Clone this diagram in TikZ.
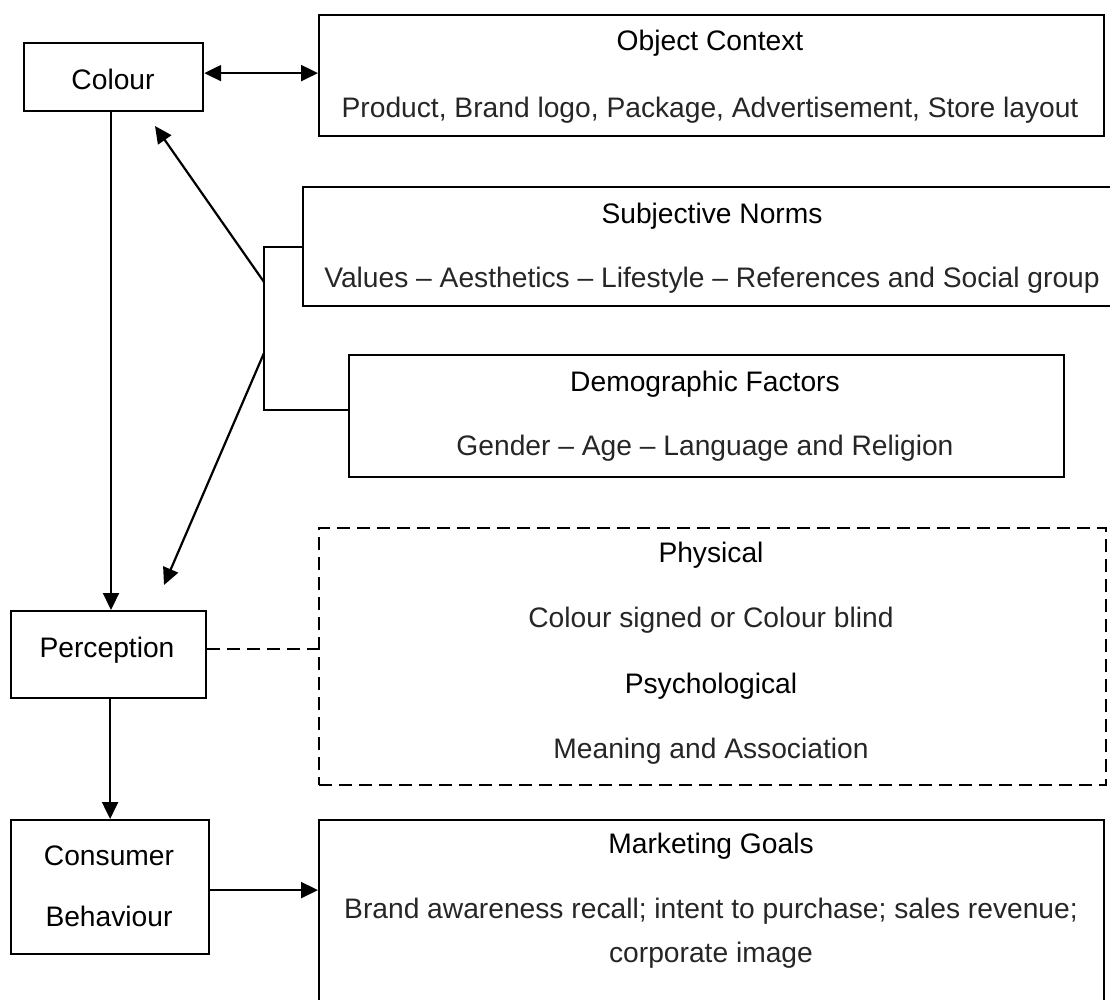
\documentclass[tikz,border=0pt]{standalone}
\usepackage{fontspec}
\setmainfont{Liberation Sans}
\usetikzlibrary{arrows.meta}
\begin{document}
\begin{tikzpicture}[x=1pt,y=-1pt,
  frame/.style={draw=black, line width=2.2pt, inner sep=0pt, anchor=north west},
  dashframe/.style={frame, dash pattern=on 13pt off 7pt},
  label/.style={anchor=base, inner sep=0pt, font=\fontsize{28.2}{34}\selectfont},
  bodytext/.style={label, text=black!85},
  link/.style={line width=2.2pt},
  arrow/.style={link, -{Triangle[length=17pt,width=16pt]}},
  twoway/.style={link, {Triangle[length=17pt,width=16pt]}-{Triangle[length=17pt,width=16pt]}}]
\useasboundingbox (0,0) rectangle (1110,999);

% left column
\node[frame, minimum width=179pt, minimum height=68pt]  (colour) at (23,42) {};
\node[frame, minimum width=195pt, minimum height=87pt]  (perc)   at (10,610) {};
\node[frame, minimum width=198pt, minimum height=134pt] (cons)   at (10,819) {};
\node[label] (tcolour) at (113,89) {Colour};
\node[label] (tperc)   at (107,657) {Perception};
\node[label] (tcons1)  at (109,865) {Consumer};
\node[label] (tcons2)  at (109,926) {Behaviour};

% right column
\node[frame, minimum width=785pt, minimum height=121pt] (objctx) at (318,14) {};
\node[frame, minimum width=823pt, minimum height=119pt] (subj)   at (302,186) {};
\node[frame, minimum width=715pt, minimum height=122pt] (demo)   at (348,354) {};
\node[dashframe, minimum width=787pt, minimum height=257pt] (phys) at (318,527) {};
\node[frame, minimum width=785pt, minimum height=200pt] (goals)  at (318,819) {};

\node[label]    (tobj)   at (710,50)  {Object Context};
\node[bodytext] (tobjb)  at (710,117) {Product, Brand logo, Package, Advertisement, Store layout};
\node[label]    (tsubj)  at (712,223) {Subjective Norms};
\node[bodytext] (tsubjb) at (712,287) {Values – Aesthetics – Lifestyle – References and Social group};
\node[label]    (tdemo)  at (705,391) {Demographic Factors};
\node[bodytext] (tdemob) at (705,455) {Gender – Age – Language and Religion};
\node[label]    (tphys)  at (711,562) {Physical};
\node[bodytext] (tphysb) at (711,627) {Colour signed or Colour blind};
\node[label]    (tpsy)   at (711,693) {Psychological};
\node[bodytext] (tpsyb)  at (711,758) {Meaning and Association};
\node[label]    (tgoal)  at (711,853) {Marketing Goals};
\node[bodytext] (tgoal1) at (711,918) {Brand awareness recall; intent to purchase; sales revenue;};
\node[bodytext] (tgoal2) at (711,962) {corporate image};

% bracket joining the two norm boxes
\coordinate (bt) at (264,247);
\coordinate (bb) at (264,410);
\coordinate (ja) at (264,282);
\coordinate (jb) at (264,353);
\coordinate (ta) at (155,126);
\coordinate (tb) at (164,585);
\draw[link] (bt -| subj.west) -- (bt) -- (bb) -- (bb -| demo.west);
\draw[arrow] (ja) -- (ta);
\draw[arrow] (jb) -- (tb);

% connectors
\draw[twoway] ([yshift=4pt]colour.east) -- ([yshift=4pt]colour.east -| objctx.west);
\draw[arrow] (colour.south -| 111,0) -- (perc.north -| 111,0);
\draw[arrow] (perc.south -| cons.north) -- (cons.north);
\draw[link, dash pattern=on 13pt off 7pt] ([yshift=6pt]perc.east) -- ([yshift=6pt]perc.east -| phys.west);
\draw[arrow] ([yshift=-3pt]cons.east) -- ([yshift=-3pt]cons.east -| goals.west);
\end{tikzpicture}
\end{document}
